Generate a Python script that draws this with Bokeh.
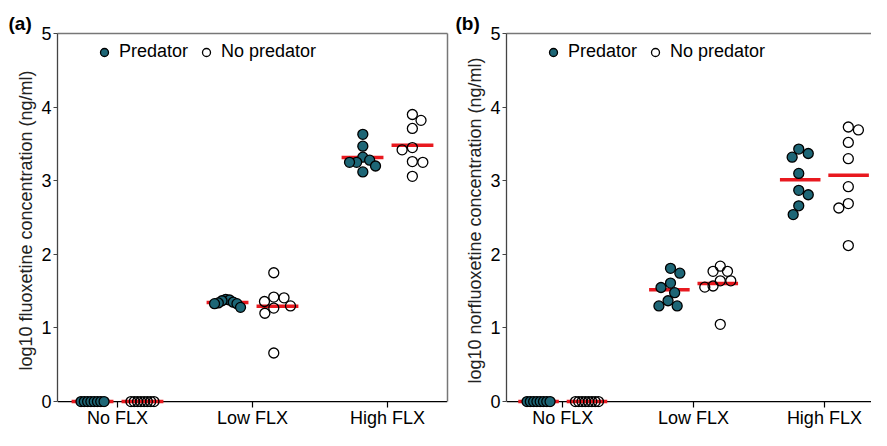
import math
import numpy as np
from bokeh.plotting import figure
from bokeh.models import (ColumnDataSource, Range1d, FixedTicker, LinearAxis,
                          Legend, LegendItem, Span)
from bokeh.layouts import row
from bokeh.embed import file_html
from bokeh.resources import INLINE

# ---------------- data ----------------
categories = ["No FLX", "Low FLX", "High FLX"]
treatments = ["Predator", "No predator"]
y_ticks = [0, 1, 2, 3, 4, 5]
panel_tags = ["(a)", "(b)"]
y_titles = ["log10 fluoxetine concentration (ng/ml)",
            "log10 norfluoxetine concentration (ng/ml)"]

# (a) fluoxetine
flx_pred_none = [0, 0, 0, 0, 0, 0, 0, 0]
flx_pred_low = [1.39, 1.38, 1.37, 1.35, 1.34, 1.33, 1.33, 1.28]
flx_pred_high = [3.63, 3.47, 3.32, 3.28, 3.25, 3.25, 3.20, 3.12]
flx_nopred_none = [0, 0, 0, 0, 0, 0, 0, 0]
flx_nopred_low = [1.75, 1.42, 1.41, 1.36, 1.30, 1.27, 1.20, 0.66]
flx_nopred_high = [3.90, 3.82, 3.71, 3.45, 3.42, 3.26, 3.25, 3.06]

# (b) norfluoxetine
nor_pred_none = [0, 0, 0, 0, 0, 0, 0, 0]
nor_pred_low = [1.81, 1.745, 1.61, 1.55, 1.48, 1.37, 1.30, 1.30]
nor_pred_high = [3.43, 3.37, 3.32, 3.10, 2.87, 2.81, 2.66, 2.54]
nor_nopred_none = [0, 0, 0, 0, 0, 0, 0, 0]
nor_nopred_low = [1.84, 1.77, 1.77, 1.64, 1.64, 1.57, 1.555, 1.05]
nor_nopred_high = [3.73, 3.69, 3.52, 3.30, 2.92, 2.69, 2.63, 2.12]

# ---------------- style / layout ----------------
FONT = "Liberation Sans"
TEAL = "#1d6676"
RED = "#e8191f"
H = 430
BORDER_TOP = 33
BORDER_BOTTOM = 20
Y_RANGE = (-0.08, 5)
GROUP_OFF = 0.185
MEAN_HALF = 0.155
MARK = 10
FRAME_H = float(H - BORDER_TOP - BORDER_BOTTOM)
PX_Y = FRAME_H / (Y_RANGE[1] - Y_RANGE[0])


def swarm(vals, d=10.5, max_half=13.0):
    """Deterministic beeswarm offsets (pixels) for one group."""
    vals = np.asarray(vals, float)
    n = len(vals)
    if n == 1:
        return np.zeros(1)
    if np.ptp(vals) == 0:
        return np.linspace(-11.5, 11.5, n)
    order = np.argsort(-vals, kind="stable")
    placed = []
    xs = np.zeros(n)
    for i in order:
        y = vals[i] * PX_Y
        cands = [0.0]
        for xj, yj in placed:
            dy = abs(y - yj)
            if dy < d:
                dx = math.sqrt(d * d - dy * dy)
                cands += [xj + dx, xj - dx]
        ok = [c for c in cands
              if all((c - xj) ** 2 + (y - yj) ** 2 >= d * d - 1e-6 for xj, yj in placed)]
        left = sum(1 for xj, _ in placed if xj < -1e-6)
        right = sum(1 for xj, _ in placed if xj > 1e-6)
        best = min(ok, key=lambda c: (round(abs(c), 4), (c > 0) == (right > left)))
        xs[i] = best
        placed.append((best, y))
    xs -= (xs.max() + xs.min()) / 2
    m = np.abs(xs).max()
    if m > max_half:
        xs *= max_half / m
    return xs


def make_panel(tag, ytitle, pred_groups, nopred_groups, width, border_left,
               border_right, x_range, right_border, tag_offset):
    frame_w = width - border_left - border_right
    px_x = frame_w / (x_range[1] - x_range[0])
    p = figure(width=width, height=H, output_backend="svg", toolbar_location=None,
               x_range=Range1d(*x_range), y_range=Range1d(*Y_RANGE),
               min_border_left=border_left, min_border_right=border_right,
               min_border_top=BORDER_TOP, min_border_bottom=BORDER_BOTTOM,
               background_fill_color="white", border_fill_color="white")
    p.outline_line_color = None
    p.xgrid.visible = False
    p.ygrid.visible = False

    # panel tag as the title
    p.title.text = tag
    p.title.align = "left"
    p.title.offset = tag_offset
    p.title.standoff = 0
    p.title.text_font = FONT
    p.title.text_font_size = "19px"
    p.title.text_font_style = "bold"
    p.title.text_color = "black"

    # x axis line at y = 0
    p.add_layout(Span(location=0, dimension="width", line_color="black",
                      line_width=1.3, level="underlay"))

    legend_items = []
    for t_i, (name, groups) in enumerate(zip(treatments, [pred_groups, nopred_groups])):
        off = -GROUP_OFF if t_i == 0 else GROUP_OFF
        xs, ys, mx0, mx1, my = [], [], [], [], []
        for c_i, vals in enumerate(groups):
            jit = swarm(vals) / px_x
            xs += list(c_i + off + jit)
            ys += list(vals)
            mx0.append(c_i + off - MEAN_HALF)
            mx1.append(c_i + off + MEAN_HALF)
            my.append(float(np.mean(vals)))
        p.segment(x0=mx0, x1=mx1, y0=my, y1=my, line_color=RED, line_width=3.5)
        src = ColumnDataSource(dict(x=xs, y=ys))
        if t_i == 0:
            r = p.scatter("x", "y", source=src, size=MARK, marker="circle",
                          fill_color=TEAL, line_color="black", line_width=1.3)
        else:
            r = p.scatter("x", "y", source=src, size=MARK, marker="circle",
                          fill_color=None, line_color="black", line_width=1.3)
        legend_items.append(LegendItem(label=name, renderers=[r]))

    # x axis (labels + short ticks hanging under the zero line)
    xa = p.xaxis[0]
    xa.ticker = FixedTicker(ticks=list(range(len(categories))))
    xa.major_label_overrides = {i: c for i, c in enumerate(categories)}
    xa.major_tick_out = 0
    xa.major_tick_in = 6
    xa.minor_tick_out = 0
    xa.minor_tick_in = 0
    xa.major_label_standoff = 0
    xa.major_label_text_font = FONT
    xa.major_label_text_font_size = "18px"
    xa.major_label_text_color = "black"
    xa.axis_line_color = None
    xa.major_tick_line_color = "black"
    xa.major_tick_line_width = 1.2

    # y axis
    ya = p.yaxis[0]
    ya.ticker = FixedTicker(ticks=y_ticks)
    ya.bounds = (0, 5)
    ya.major_tick_out = 4
    ya.major_tick_in = 0
    ya.minor_tick_out = 0
    ya.minor_tick_in = 0
    ya.major_label_standoff = 2
    ya.major_label_text_font = FONT
    ya.major_label_text_font_size = "18px"
    ya.major_label_text_color = "black"
    ya.axis_line_color = "#444444"
    ya.axis_line_width = 1.3
    ya.major_tick_line_color = "#444444"
    ya.axis_label = ytitle
    ya.axis_label_text_font = FONT
    ya.axis_label_text_font_size = "18px"
    ya.axis_label_text_font_style = "normal"
    ya.axis_label_text_color = "#222222"
    ya.axis_label_standoff = 2

    # frame borders (top, and right for panel a)
    top = LinearAxis(ticker=FixedTicker(ticks=[]), axis_line_color="#777777",
                     axis_line_width=1.5, major_tick_out=0, major_tick_in=0,
                     minor_tick_out=0, minor_tick_in=0)
    p.add_layout(top, "above")
    if right_border:
        rgt = LinearAxis(ticker=FixedTicker(ticks=[]), axis_line_color="#777777",
                         axis_line_width=1.5, major_tick_out=0, major_tick_in=0,
                         minor_tick_out=0, minor_tick_in=0, bounds=(0, 5))
        p.add_layout(rgt, "right")

    legend = Legend(items=legend_items,
                    location=(37, int(FRAME_H - 9.5 - 22)), orientation="horizontal",
                    glyph_width=20, glyph_height=20, label_standoff=5, spacing=8,
                    padding=0, margin=0, border_line_color=None,
                    background_fill_alpha=0, label_text_font=FONT,
                    label_text_font_size="18px", label_text_color="black")
    p.add_layout(legend)
    return p


pa = make_panel(panel_tags[0], y_titles[0],
                [flx_pred_none, flx_pred_low, flx_pred_high],
                [flx_nopred_none, flx_nopred_low, flx_nopred_high],
                width=452, border_left=57, border_right=5,
                x_range=(-60 / 135, 330 / 135), right_border=True, tag_offset=-49)
pb = make_panel(panel_tags[1], y_titles[1],
                [nor_pred_none, nor_pred_low, nor_pred_high],
                [nor_nopred_none, nor_nopred_low, nor_nopred_high],
                width=419, border_left=54, border_right=0,
                x_range=(-0.43, 2.36), right_border=False, tag_offset=-51)

layout = row(pa, pb)
open("out.html", "w").write(file_html(layout, INLINE))
